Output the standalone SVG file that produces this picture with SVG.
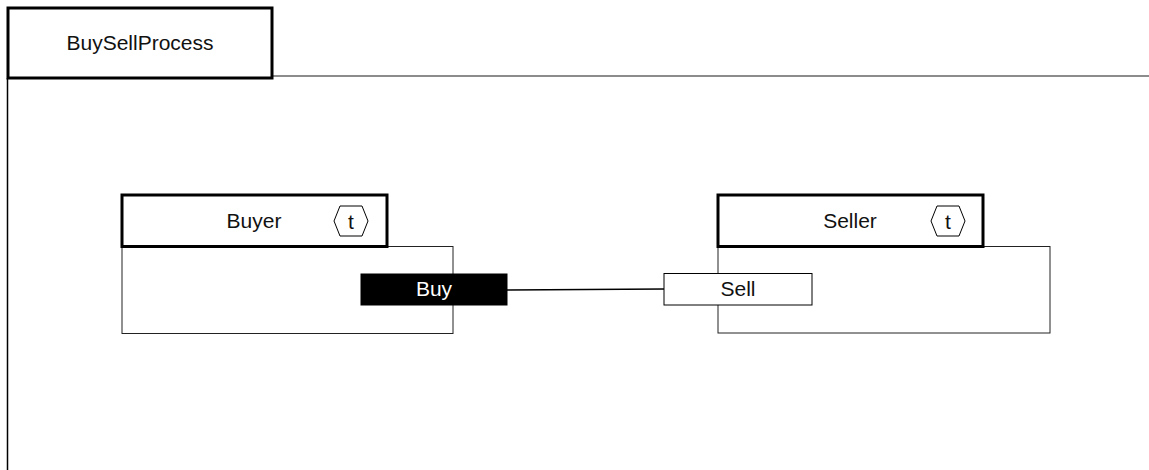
<svg xmlns="http://www.w3.org/2000/svg" width="1149" height="470" viewBox="0 0 1149 470">
  <style>
    text { font-family: "Liberation Sans", Arial, sans-serif; font-size: 21px; fill: #111; text-anchor: middle; }
    .frame { fill: #fff; stroke: #000; stroke-width: 3; }
    .body { fill: #fff; stroke: #222; stroke-width: 1; }
    .hdr { fill: #fff; stroke: #000; stroke-width: 3; }
    .hex { fill: #fff; stroke: #000; stroke-width: 1; }
    .port { stroke: #000; stroke-width: 1; }
    .wire { fill: none; stroke: #000; stroke-width: 1.5; }
  </style>
  <defs>
    <!-- template marker: small hexagon with "t" -->
    <g id="tmpl">
      <polygon class="hex" points="-17,0 -11,-15 11,-15 17,0 11,15 -11,15"/>
      <text x="0" y="8">t</text>
    </g>
  </defs>
  <rect width="1149" height="470" fill="#fff"/>

  <!-- enclosing process frame -->
  <g id="process">
    <line x1="7.5" y1="78" x2="7.5" y2="470" stroke="#000" stroke-width="1.5"/>
    <line x1="272" y1="76" x2="1149" y2="76" stroke="#666" stroke-width="1.5"/>
    <rect class="frame" x="8" y="8" width="264" height="70"/>
    <text x="140" y="50">BuySellProcess</text>
  </g>

  <!-- Buyer part -->
  <g id="buyer">
    <rect class="body" x="122" y="246.5" width="331" height="87"/>
    <rect class="hdr" x="122" y="195" width="265" height="51.5"/>
    <text x="254" y="228">Buyer</text>
    <use href="#tmpl" x="351" y="221"/>
  </g>

  <!-- Seller part -->
  <g id="seller">
    <rect class="body" x="718" y="246.5" width="332" height="86.5"/>
    <rect class="hdr" x="718" y="195" width="265" height="51.5"/>
    <text x="850" y="228">Seller</text>
    <use href="#tmpl" x="948" y="221"/>
  </g>

  <!-- connectors -->
  <g id="connectors">
    <line class="wire" x1="507" y1="290" x2="664" y2="289"/>
  </g>

  <!-- ports -->
  <g id="port-buy">
    <rect class="port" x="361" y="274" width="146" height="31" fill="#000"/>
    <text x="434" y="296" style="fill:#fff">Buy</text>
  </g>
  <g id="port-sell">
    <rect class="port" x="664" y="273.5" width="148" height="31.5" fill="#fff"/>
    <text x="738" y="296">Sell</text>
  </g>
</svg>
